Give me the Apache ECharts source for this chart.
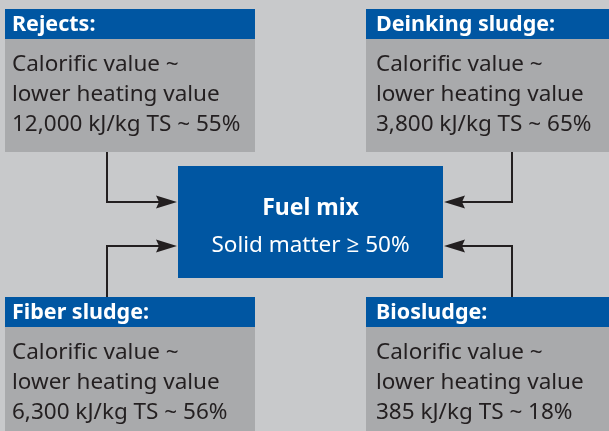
<!DOCTYPE html>
<html>
<head>
<meta charset="utf-8">
<script src="https://cdn.jsdelivr.net/npm/echarts@6/dist/echarts.min.js"></script>
<style>html,body{margin:0;padding:0;background:#c8c9cb;}#c{width:609px;height:431px;}</style>
</head>
<body>
<div id="c"></div>
<script>
// ---- data ----
var sourceNames = ['Rejects:', 'Deinking sludge:', 'Fiber sludge:', 'Biosludge:'];
var calorificLabel = ['Calorific value ~', 'lower heating value'];
var heatingValues = ['12,000', '3,800', '6,300', '385'];
var heatingUnit = 'kJ/kg TS';
var solidShares = ['55%', '65%', '56%', '18%'];
var mixTitle = 'Fuel mix';
var mixSubtitle = 'Solid matter \u2265 50%';

// ---- layout / style ----
var BLUE = '#0056a2', BODY = '#a9aaac', BG = '#c8c9cb', INK = '#231f20';
var FONT = '"Noto Sans", "Open Sans", sans-serif';
var boxes = [
  {x: 5,   y: 9,   w: 250, hh: 30, bh: 113, tx: 7,  arrowX: 107, arrowY: 202, side: 'left',  vert: 'down'},
  {x: 366, y: 9,   w: 243, hh: 30, bh: 113, tx: 10, arrowX: 512, arrowY: 202, side: 'right', vert: 'down'},
  {x: 5,   y: 297, w: 250, hh: 30, bh: 104, tx: 7,  arrowX: 107, arrowY: 246, side: 'left',  vert: 'up'},
  {x: 366, y: 297, w: 243, hh: 30, bh: 104, tx: 10, arrowX: 512, arrowY: 246, side: 'right', vert: 'up'}
];
var mix = {x: 178, y: 166, w: 265, h: 112};

var els = [];
els.push({type: 'rect', shape: {x: 0, y: 0, width: 609, height: 431}, style: {fill: BG}, z: 0});

boxes.forEach(function (b, i) {
  els.push({type: 'rect', shape: {x: b.x, y: b.y, width: b.w, height: b.hh}, style: {fill: BLUE}, z: 1});
  els.push({type: 'rect', shape: {x: b.x, y: b.y + b.hh, width: b.w, height: b.bh}, style: {fill: BODY}, z: 1});
  els.push({type: 'text', x: b.x + b.tx, y: b.y + b.hh / 2 + 1, z: 2,
    style: {text: sourceNames[i], fill: '#ffffff', font: 'bold 21.5px ' + FONT, verticalAlign: 'middle', align: 'left'}});
  var lines = [calorificLabel[0], calorificLabel[1], heatingValues[i] + ' ' + heatingUnit + ' ~ ' + solidShares[i]];
  lines.forEach(function (t, k) {
    els.push({type: 'text', x: b.x + b.tx, y: b.y + b.hh + 26 + k * 30, z: 2,
      style: {text: t, fill: INK, font: '22.5px ' + FONT, verticalAlign: 'middle', align: 'left'}});
  });
  // connector
  var yEdge = b.vert === 'down' ? b.y + b.hh + b.bh : b.y;
  var xEnd = b.side === 'left' ? mix.x - 19 : mix.x + mix.w + 19;
  els.push({type: 'polyline', z: 1,
    shape: {points: [[b.arrowX, yEdge], [b.arrowX, b.arrowY], [xEnd, b.arrowY]]},
    style: {stroke: INK, lineWidth: 2, fill: null}});
  var tip = b.side === 'left' ? mix.x - 1 : mix.x + mix.w + 1;
  var base = b.side === 'left' ? tip - 21 : tip + 21;
  els.push({type: 'polygon', z: 2,
    shape: {points: [[tip, b.arrowY], [base, b.arrowY - 6.5], [base + (b.side === 'left' ? 3 : -3), b.arrowY], [base, b.arrowY + 6.5]]},
    style: {fill: INK}});
});

els.push({type: 'rect', shape: {x: mix.x, y: mix.y, width: mix.w, height: mix.h}, style: {fill: BLUE}, z: 1});
els.push({type: 'text', x: mix.x + mix.w / 2, y: 208, z: 2,
  style: {text: mixTitle, fill: '#ffffff', font: 'bold 23px ' + FONT, align: 'center', verticalAlign: 'middle'}});
els.push({type: 'text', x: mix.x + mix.w / 2, y: 246, z: 2,
  style: {text: mixSubtitle, fill: '#ffffff', font: '22.5px ' + FONT, align: 'center', verticalAlign: 'middle'}});

var chart = echarts.init(document.getElementById('c'), null, {renderer: 'canvas'});
chart.setOption({animation: false, backgroundColor: BG, graphic: {elements: els}});
</script>
</body>
</html>
